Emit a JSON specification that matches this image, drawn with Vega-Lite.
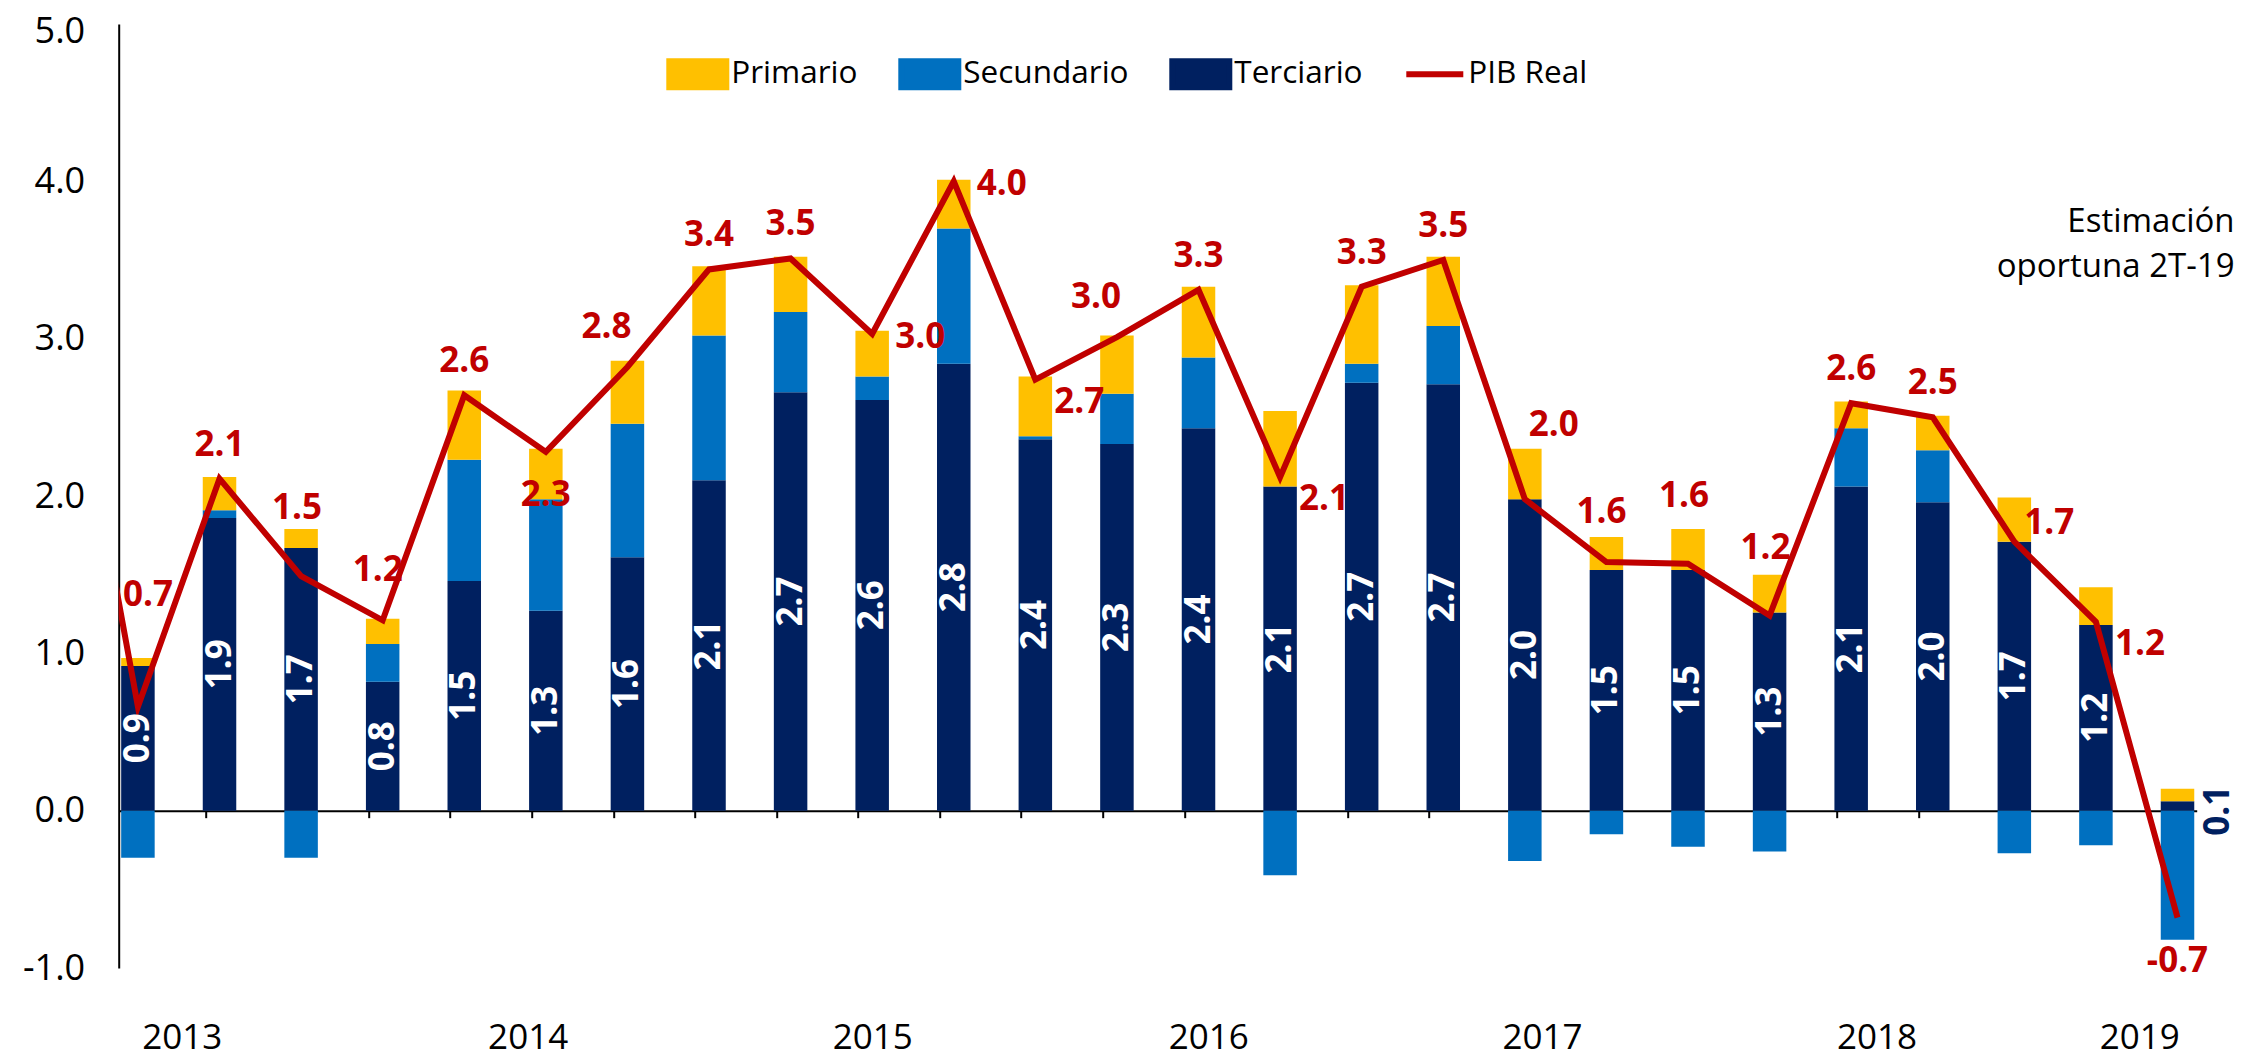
{
  "$schema": "https://vega.github.io/schema/vega-lite/v6.json",
  "width": 2078,
  "height": 944,
  "autosize": {"type": "none"},
  "padding": {"left": 118.7, "top": 24, "right": 67.3, "bottom": 90},
  "background": "white",
  "config": {
    "view": {"stroke": null},
    "font": "Open Sans",
    "locale": {"number": {"decimal": ".", "thousands": ",", "grouping": [3], "currency": ["$", ""], "minus": "-"}}
  },
  "datasets": {
    "sectores": [
      {"q": 1, "periodo": "2013T1", "sector": "Terciario", "valor": 0.92}, {"q": 1, "periodo": "2013T1", "sector": "Secundario", "valor": -0.30}, {"q": 1, "periodo": "2013T1", "sector": "Primario", "valor": 0.05},
      {"q": 2, "periodo": "2013T2", "sector": "Terciario", "valor": 1.86}, {"q": 2, "periodo": "2013T2", "sector": "Secundario", "valor": 0.05}, {"q": 2, "periodo": "2013T2", "sector": "Primario", "valor": 0.21},
      {"q": 3, "periodo": "2013T3", "sector": "Terciario", "valor": 1.67}, {"q": 3, "periodo": "2013T3", "sector": "Secundario", "valor": -0.30}, {"q": 3, "periodo": "2013T3", "sector": "Primario", "valor": 0.12},
      {"q": 4, "periodo": "2013T4", "sector": "Terciario", "valor": 0.82}, {"q": 4, "periodo": "2013T4", "sector": "Secundario", "valor": 0.24}, {"q": 4, "periodo": "2013T4", "sector": "Primario", "valor": 0.16},
      {"q": 5, "periodo": "2014T1", "sector": "Terciario", "valor": 1.46}, {"q": 5, "periodo": "2014T1", "sector": "Secundario", "valor": 0.77}, {"q": 5, "periodo": "2014T1", "sector": "Primario", "valor": 0.44},
      {"q": 6, "periodo": "2014T2", "sector": "Terciario", "valor": 1.27}, {"q": 6, "periodo": "2014T2", "sector": "Secundario", "valor": 0.71}, {"q": 6, "periodo": "2014T2", "sector": "Primario", "valor": 0.32},
      {"q": 7, "periodo": "2014T3", "sector": "Terciario", "valor": 1.61}, {"q": 7, "periodo": "2014T3", "sector": "Secundario", "valor": 0.85}, {"q": 7, "periodo": "2014T3", "sector": "Primario", "valor": 0.40},
      {"q": 8, "periodo": "2014T4", "sector": "Terciario", "valor": 2.10}, {"q": 8, "periodo": "2014T4", "sector": "Secundario", "valor": 0.92}, {"q": 8, "periodo": "2014T4", "sector": "Primario", "valor": 0.44},
      {"q": 9, "periodo": "2015T1", "sector": "Terciario", "valor": 2.66}, {"q": 9, "periodo": "2015T1", "sector": "Secundario", "valor": 0.51}, {"q": 9, "periodo": "2015T1", "sector": "Primario", "valor": 0.35},
      {"q": 10, "periodo": "2015T2", "sector": "Terciario", "valor": 2.61}, {"q": 10, "periodo": "2015T2", "sector": "Secundario", "valor": 0.15}, {"q": 10, "periodo": "2015T2", "sector": "Primario", "valor": 0.29},
      {"q": 11, "periodo": "2015T3", "sector": "Terciario", "valor": 2.84}, {"q": 11, "periodo": "2015T3", "sector": "Secundario", "valor": 0.86}, {"q": 11, "periodo": "2015T3", "sector": "Primario", "valor": 0.31},
      {"q": 12, "periodo": "2015T4", "sector": "Terciario", "valor": 2.36}, {"q": 12, "periodo": "2015T4", "sector": "Secundario", "valor": 0.02}, {"q": 12, "periodo": "2015T4", "sector": "Primario", "valor": 0.38},
      {"q": 13, "periodo": "2016T1", "sector": "Terciario", "valor": 2.33}, {"q": 13, "periodo": "2016T1", "sector": "Secundario", "valor": 0.32}, {"q": 13, "periodo": "2016T1", "sector": "Primario", "valor": 0.37},
      {"q": 14, "periodo": "2016T2", "sector": "Terciario", "valor": 2.43}, {"q": 14, "periodo": "2016T2", "sector": "Secundario", "valor": 0.45}, {"q": 14, "periodo": "2016T2", "sector": "Primario", "valor": 0.45},
      {"q": 15, "periodo": "2016T3", "sector": "Terciario", "valor": 2.06}, {"q": 15, "periodo": "2016T3", "sector": "Secundario", "valor": -0.41}, {"q": 15, "periodo": "2016T3", "sector": "Primario", "valor": 0.48},
      {"q": 16, "periodo": "2016T4", "sector": "Terciario", "valor": 2.72}, {"q": 16, "periodo": "2016T4", "sector": "Secundario", "valor": 0.12}, {"q": 16, "periodo": "2016T4", "sector": "Primario", "valor": 0.50},
      {"q": 17, "periodo": "2017T1", "sector": "Terciario", "valor": 2.71}, {"q": 17, "periodo": "2017T1", "sector": "Secundario", "valor": 0.37}, {"q": 17, "periodo": "2017T1", "sector": "Primario", "valor": 0.44},
      {"q": 18, "periodo": "2017T2", "sector": "Terciario", "valor": 1.98}, {"q": 18, "periodo": "2017T2", "sector": "Secundario", "valor": -0.32}, {"q": 18, "periodo": "2017T2", "sector": "Primario", "valor": 0.32},
      {"q": 19, "periodo": "2017T3", "sector": "Terciario", "valor": 1.53}, {"q": 19, "periodo": "2017T3", "sector": "Secundario", "valor": -0.15}, {"q": 19, "periodo": "2017T3", "sector": "Primario", "valor": 0.21},
      {"q": 20, "periodo": "2017T4", "sector": "Terciario", "valor": 1.53}, {"q": 20, "periodo": "2017T4", "sector": "Secundario", "valor": -0.23}, {"q": 20, "periodo": "2017T4", "sector": "Primario", "valor": 0.26},
      {"q": 21, "periodo": "2018T1", "sector": "Terciario", "valor": 1.26}, {"q": 21, "periodo": "2018T1", "sector": "Secundario", "valor": -0.26}, {"q": 21, "periodo": "2018T1", "sector": "Primario", "valor": 0.24},
      {"q": 22, "periodo": "2018T2", "sector": "Terciario", "valor": 2.06}, {"q": 22, "periodo": "2018T2", "sector": "Secundario", "valor": 0.37}, {"q": 22, "periodo": "2018T2", "sector": "Primario", "valor": 0.17},
      {"q": 23, "periodo": "2018T3", "sector": "Terciario", "valor": 1.96}, {"q": 23, "periodo": "2018T3", "sector": "Secundario", "valor": 0.33}, {"q": 23, "periodo": "2018T3", "sector": "Primario", "valor": 0.22},
      {"q": 24, "periodo": "2018T4", "sector": "Terciario", "valor": 1.71}, {"q": 24, "periodo": "2018T4", "sector": "Secundario", "valor": -0.27}, {"q": 24, "periodo": "2018T4", "sector": "Primario", "valor": 0.28},
      {"q": 25, "periodo": "2019T1", "sector": "Terciario", "valor": 1.18}, {"q": 25, "periodo": "2019T1", "sector": "Secundario", "valor": -0.22}, {"q": 25, "periodo": "2019T1", "sector": "Primario", "valor": 0.24},
      {"q": 26, "periodo": "2019T2", "sector": "Terciario", "valor": 0.06}, {"q": 26, "periodo": "2019T2", "sector": "Secundario", "valor": -0.82}, {"q": 26, "periodo": "2019T2", "sector": "Primario", "valor": 0.08}
    ],
    "pib": [
      {"q": 0, "periodo": "2012T4", "pib": 3.5},
      {"q": 1, "periodo": "2013T1", "pib": 0.66},
      {"q": 2, "periodo": "2013T2", "pib": 2.11},
      {"q": 3, "periodo": "2013T3", "pib": 1.49},
      {"q": 4, "periodo": "2013T4", "pib": 1.21},
      {"q": 5, "periodo": "2014T1", "pib": 2.64},
      {"q": 6, "periodo": "2014T2", "pib": 2.28},
      {"q": 7, "periodo": "2014T3", "pib": 2.82},
      {"q": 8, "periodo": "2014T4", "pib": 3.44},
      {"q": 9, "periodo": "2015T1", "pib": 3.51},
      {"q": 10, "periodo": "2015T2", "pib": 3.03},
      {"q": 11, "periodo": "2015T3", "pib": 4.00},
      {"q": 12, "periodo": "2015T4", "pib": 2.74},
      {"q": 13, "periodo": "2016T1", "pib": 3.01},
      {"q": 14, "periodo": "2016T2", "pib": 3.31},
      {"q": 15, "periodo": "2016T3", "pib": 2.12},
      {"q": 16, "periodo": "2016T4", "pib": 3.33},
      {"q": 17, "periodo": "2017T1", "pib": 3.50},
      {"q": 18, "periodo": "2017T2", "pib": 1.98},
      {"q": 19, "periodo": "2017T3", "pib": 1.58},
      {"q": 20, "periodo": "2017T4", "pib": 1.57},
      {"q": 21, "periodo": "2018T1", "pib": 1.24},
      {"q": 22, "periodo": "2018T2", "pib": 2.59},
      {"q": 23, "periodo": "2018T3", "pib": 2.50},
      {"q": 24, "periodo": "2018T4", "pib": 1.71},
      {"q": 25, "periodo": "2019T1", "pib": 1.20},
      {"q": 26, "periodo": "2019T2", "pib": -0.68}
    ]
  },
  "layer": [
    {
      "data": {"name": "sectores"},
      "mark": {"type": "bar", "orient": "vertical", "size": 33.5},
      "encoding": {
        "x": {"field": "q", "type": "quantitative", "scale": {"domain": [0.8256, 26.174], "nice": false, "zero": false},
          "axis": {"orient": "bottom", "offset": -157.33, "values": [1.826, 2.826, 3.826, 4.826, 5.826, 6.826, 7.826, 8.826, 9.826, 10.826, 11.826, 12.826, 13.826, 14.826, 15.826, 16.826, 17.826, 18.826, 19.826, 20.826, 21.826, 22.826, 23.826, 24.826, 25.826],
            "labels": false, "ticks": true, "tickSize": 7, "tickWidth": 2, "tickColor": "black", "domain": true, "domainColor": "black", "domainWidth": 2, "grid": false, "title": null}},
        "y": {"field": "valor", "type": "quantitative", "stack": "zero", "scale": {"domain": [-1, 5], "nice": false, "zero": false},
          "axis": {"values": [-1, 0, 1, 2, 3, 4, 5], "format": ".1f", "ticks": false, "tickSize": 0, "labelPadding": 34, "domain": true, "domainColor": "black", "domainWidth": 2, "grid": false, "title": null, "labelFont": "Open Sans", "labelFontSize": 36, "labelColor": "black", "labelFlush": false, "labelOverlap": false,
            "labelOffset": {"condition": {"test": "datum.value === 5", "value": 7}, "value": 0}}},
        "color": {"field": "sector", "type": "nominal",
          "scale": {"domain": ["Primario", "Secundario", "Terciario", "PIB Real"], "range": ["#FFC000", "#0070C0", "#002060", "#C00000"]},
          "legend": {"orient": "none", "legendX": 547.6, "legendY": 18.5, "direction": "horizontal", "title": null, "padding": 0,
            "symbolType": "M-1,-0.456H1V0.456H-1Z", "symbolSize": 3249, "symbolStrokeWidth": 6,
            "labelFont": "Open Sans", "labelFontSize": 31.5, "labelColor": "black", "labelOffset": 2, "labelLimit": 0, "columnPadding": 31,
            "encode": {"symbols": {"update": {
              "shape": {"signal": "datum.value === 'PIB Real' ? 'M-1,-0.456M-1,0H1M1,0.456' : 'M-1,-0.456H1V0.456H-1Z'"},
              "fill": {"signal": "datum.value === 'PIB Real' ? 'transparent' : scale('color', datum.value)"},
              "stroke": {"signal": "datum.value === 'PIB Real' ? '#C00000' : 'transparent'"},
              "opacity": {"value": 1}, "fillOpacity": {"value": 1}, "strokeOpacity": {"value": 1}
            }}}}},
        "order": {"field": "sector", "sort": "descending"}
      }
    },
    {
      "data": {"name": "pib"},
      "mark": {"type": "line", "strokeWidth": 6, "clip": true},
      "encoding": {
        "x": {"field": "q", "type": "quantitative", "scale": {"domain": [0.8256, 26.174], "nice": false, "zero": false},
          "axis": {"orient": "bottom", "values": [1.537, 5.777, 10.0, 14.12, 18.21, 22.31, 25.53], "labelExpr": "toString(2013 + floor((datum.value - 1) / 4))",
            "domain": false, "ticks": false, "tickSize": 0, "labelPadding": 69, "labelFont": "Open Sans", "labelFontSize": 35, "labelColor": "black", "labelBaseline": "middle", "grid": false, "title": null, "labelFlush": false, "labelOverlap": false}},
        "y": {"field": "pib", "type": "quantitative"},
        "color": {"datum": "PIB Real"}
      }
    },
    {
      "data": {"name": "sectores"},
      "transform": [{"filter": "datum.sector === 'Terciario' && datum.q < 26"}],
      "mark": {"type": "text", "angle": 270, "align": "center", "baseline": "middle", "font": "Open Sans", "fontSize": 35, "fontWeight": "bold", "color": "white"},
      "encoding": {
        "x": {"field": "q", "type": "quantitative", "axis": null, "scale": {"domain": [0.8256, 26.174], "nice": false, "zero": false}},
        "y": {"field": "valor", "type": "quantitative", "stack": "zero", "bandPosition": 0.5},
        "detail": {"field": "sector"},
        "text": {"field": "valor", "type": "quantitative", "format": ".1f"}
      }
    },
    {
      "data": {"name": "sectores"},
      "transform": [{"filter": "datum.sector === 'Terciario' && datum.q === 26"}],
      "mark": {"type": "text", "angle": 270, "align": "center", "baseline": "middle", "dy": 40, "font": "Open Sans", "fontSize": 35, "fontWeight": "bold", "color": "#002060"},
      "encoding": {
        "x": {"field": "q", "type": "quantitative", "axis": null, "scale": {"domain": [0.8256, 26.174], "nice": false, "zero": false}},
        "y": {"datum": 0},
        "text": {"field": "valor", "type": "quantitative", "format": ".1f"}
      }
    },
    {
      "data": {"name": "pib"},
      "transform": [{"filter": "indexof([2, 5, 8, 9, 14, 16, 17, 22, 23], datum.q) >= 0"}],
      "mark": {"type": "text", "align": "center", "baseline": "middle", "dy": -34, "font": "Open Sans", "fontSize": 35, "fontWeight": "bold", "color": "#C00000"},
      "encoding": {
        "x": {"field": "q", "type": "quantitative", "axis": null, "scale": {"domain": [0.8256, 26.174], "nice": false, "zero": false}},
        "y": {"field": "pib", "type": "quantitative"},
        "text": {"field": "pib", "type": "quantitative", "format": ".1f"}
      }
    },
    {
      "data": {"name": "pib"},
      "transform": [{"filter": "indexof([7, 13], datum.q) >= 0"}],
      "mark": {"type": "text", "align": "center", "baseline": "middle", "dx": -21, "dy": -40, "font": "Open Sans", "fontSize": 35, "fontWeight": "bold", "color": "#C00000"},
      "encoding": {
        "x": {"field": "q", "type": "quantitative", "axis": null, "scale": {"domain": [0.8256, 26.174], "nice": false, "zero": false}},
        "y": {"field": "pib", "type": "quantitative"},
        "text": {"field": "pib", "type": "quantitative", "format": ".1f"}
      }
    },
    {
      "data": {"name": "pib"},
      "transform": [{"filter": "indexof([4, 19], datum.q) >= 0"}],
      "mark": {"type": "text", "align": "center", "baseline": "middle", "dx": -5, "dy": -50, "font": "Open Sans", "fontSize": 35, "fontWeight": "bold", "color": "#C00000"},
      "encoding": {
        "x": {"field": "q", "type": "quantitative", "axis": null, "scale": {"domain": [0.8256, 26.174], "nice": false, "zero": false}},
        "y": {"field": "pib", "type": "quantitative"},
        "text": {"field": "pib", "type": "quantitative", "format": ".1f"}
      }
    },
    {
      "data": {"name": "pib"},
      "transform": [{"filter": "indexof([3, 20, 21], datum.q) >= 0"}],
      "mark": {"type": "text", "align": "center", "baseline": "middle", "dx": -4, "dy": -68, "font": "Open Sans", "fontSize": 35, "fontWeight": "bold", "color": "#C00000"},
      "encoding": {
        "x": {"field": "q", "type": "quantitative", "axis": null, "scale": {"domain": [0.8256, 26.174], "nice": false, "zero": false}},
        "y": {"field": "pib", "type": "quantitative"},
        "text": {"field": "pib", "type": "quantitative", "format": ".1f"}
      }
    },
    {
      "data": {"name": "pib"},
      "transform": [{"filter": "datum.q === 18"}],
      "mark": {"type": "text", "align": "center", "baseline": "middle", "dx": 29, "dy": -74, "font": "Open Sans", "fontSize": 35, "fontWeight": "bold", "color": "#C00000"},
      "encoding": {
        "x": {"field": "q", "type": "quantitative", "axis": null, "scale": {"domain": [0.8256, 26.174], "nice": false, "zero": false}},
        "y": {"field": "pib", "type": "quantitative"},
        "text": {"field": "pib", "type": "quantitative", "format": ".1f"}
      }
    },
    {
      "data": {"name": "pib"},
      "transform": [{"filter": "datum.q === 1"}],
      "mark": {"type": "text", "align": "center", "baseline": "middle", "dx": 10, "dy": -112, "font": "Open Sans", "fontSize": 35, "fontWeight": "bold", "color": "#C00000"},
      "encoding": {
        "x": {"field": "q", "type": "quantitative", "axis": null, "scale": {"domain": [0.8256, 26.174], "nice": false, "zero": false}},
        "y": {"field": "pib", "type": "quantitative"},
        "text": {"field": "pib", "type": "quantitative", "format": ".1f"}
      }
    },
    {
      "data": {"name": "pib"},
      "transform": [{"filter": "indexof([10, 11], datum.q) >= 0"}],
      "mark": {"type": "text", "align": "center", "baseline": "middle", "dx": 48, "dy": 3, "font": "Open Sans", "fontSize": 35, "fontWeight": "bold", "color": "#C00000"},
      "encoding": {
        "x": {"field": "q", "type": "quantitative", "axis": null, "scale": {"domain": [0.8256, 26.174], "nice": false, "zero": false}},
        "y": {"field": "pib", "type": "quantitative"},
        "text": {"field": "pib", "type": "quantitative", "format": ".1f"}
      }
    },
    {
      "data": {"name": "pib"},
      "transform": [{"filter": "indexof([12, 15, 25], datum.q) >= 0"}],
      "mark": {"type": "text", "align": "center", "baseline": "middle", "dx": 44, "dy": 22, "font": "Open Sans", "fontSize": 35, "fontWeight": "bold", "color": "#C00000"},
      "encoding": {
        "x": {"field": "q", "type": "quantitative", "axis": null, "scale": {"domain": [0.8256, 26.174], "nice": false, "zero": false}},
        "y": {"field": "pib", "type": "quantitative"},
        "text": {"field": "pib", "type": "quantitative", "format": ".1f"}
      }
    },
    {
      "data": {"name": "pib"},
      "transform": [{"filter": "datum.q === 24"}],
      "mark": {"type": "text", "align": "center", "baseline": "middle", "dx": 35, "dy": -19, "font": "Open Sans", "fontSize": 35, "fontWeight": "bold", "color": "#C00000"},
      "encoding": {
        "x": {"field": "q", "type": "quantitative", "axis": null, "scale": {"domain": [0.8256, 26.174], "nice": false, "zero": false}},
        "y": {"field": "pib", "type": "quantitative"},
        "text": {"field": "pib", "type": "quantitative", "format": ".1f"}
      }
    },
    {
      "data": {"name": "pib"},
      "transform": [{"filter": "indexof([6, 26], datum.q) >= 0"}],
      "mark": {"type": "text", "align": "center", "baseline": "middle", "dy": 43, "font": "Open Sans", "fontSize": 35, "fontWeight": "bold", "color": "#C00000"},
      "encoding": {
        "x": {"field": "q", "type": "quantitative", "axis": null, "scale": {"domain": [0.8256, 26.174], "nice": false, "zero": false}},
        "y": {"field": "pib", "type": "quantitative"},
        "text": {"field": "pib", "type": "quantitative", "format": ".1f"}
      }
    },
    {
      "data": {"values": [{}]},
      "mark": {"type": "text", "align": "right", "baseline": "alphabetic", "lineHeight": 45, "font": "Open Sans", "fontSize": 33, "color": "black"},
      "encoding": {
        "x": {"datum": 26.7, "type": "quantitative", "axis": null, "scale": {"domain": [0.8256, 26.174], "nice": false, "zero": false}},
        "y": {"datum": 3.679, "type": "quantitative"},
        "text": {"value": ["Estimación", "oportuna 2T-19"]}
      }
    }
  ],
  "resolve": {"axis": {"x": "independent"}}
}
